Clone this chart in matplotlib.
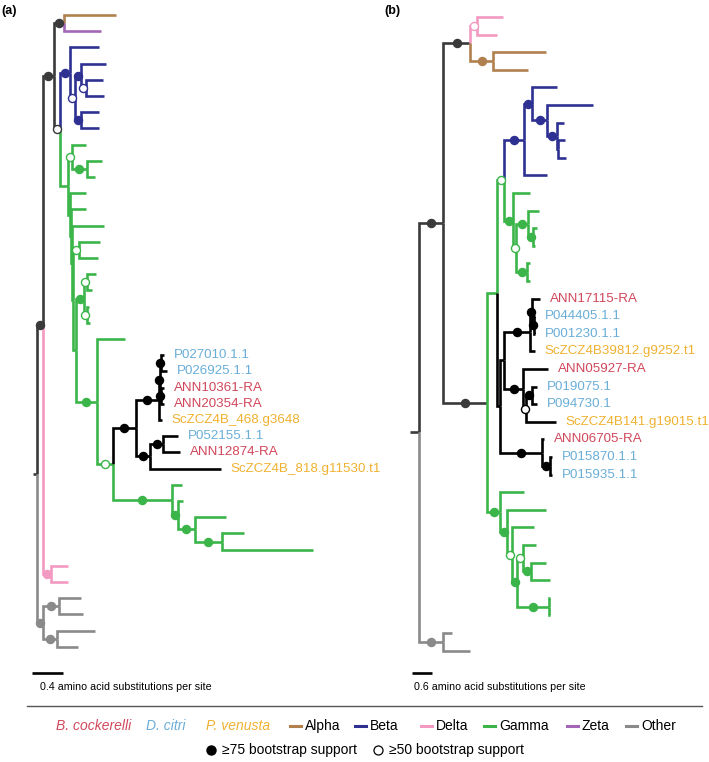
import matplotlib.pyplot as plt
from matplotlib.lines import Line2D

plt.rcParams['font.family'] = ['Liberation Sans', 'DejaVu Sans']

# trees in newick form, branch lengths in amino acid substitutions per site
# internal node label: <support>|<clade colour>, support H = >=75, L = >=50
tree_a = """
(
 (
  (
   (|a:0.671,|z:0.477)H:0.129,
   (
    (:0.374,((:0.323,(:0.219,:0.232)L:0.065)H:0.077,(:0.232,:0.232)H:0.077)L:0.065)H|b:0.129,
    (
     (:0.181,(:0.194,:0.103)H:0.194)L:0.052,
     (:0.206,
      (:0.194,
       (:0.413,
        ((:0.271,:0.245)L:0.077,
         (((:0.116,:0.065)L:0.039,(:0.026,:0.039)L:0.039)H:0.103,
          (:0.361,
           (
            (
             (((P027010.1.1:0.039,P026925.1.1:0.077)H:0.013,(ANN10361-RA:0.039,ANN20354-RA:0.039)H:0.013)H:0.013,
              ScZCZ4B_468.g3648:0.039)H:0.297,
             ((P052155.1.1:0.194,ANN12874-RA:0.219)H:0.168,ScZCZ4B_818.g11530.t1:0.916)H:0.181
            )H|x:0.297,
            (:0.129,(:0.065,(:0.400,(:0.284,:1.174)H:0.348)H:0.219)H:0.077)H:0.761
           )L:0.206
          )H:0.271
         ):0.039
        ):0.013
       ):0.013
      ):0.013
     ):0.026
    )|g:0.103
   )L:0.077
  )H:0.142,
  (:0.219,:0.219)H|d:0.103
 )H:0.077,
 ((:0.284,:0.310)H:0.206,(:0.490,:0.271)H:0.181)H|o:0.077
)|k:0.052
"""

tree_b = """
(
 (
  ((:0.78,:0.60)L|d:0.21,(:1.59,:1.05)H|a:0.69)H:0.81,
  (
   (
    (
     ((:0.75,(:1.38,(:0.21,(:0.21,:0.24):0.03)H:0.30)H:0.45)H:0.24,:0.69)H|b:0.60,
     (:0.51,((:0.33,(:0.12,:0.06)H:0.15)H:0.36,(:0.09,:0.09)H:0.33)L:0.09)H:0.27
    )L:0.21,
    (
     (
      ((ANN17115-RA:0.24,(P044405.1.1:0.03,P001230.1.1:0.03)H:0.06)H:0.06,ScZCZ4B39812.g9252.t1:0.15)H:0.78,
      (ANN05927-RA:0.75,((P019075.1:0.15,P094730.1:0.15)H:0.18,ScZCZ4B141.g19015.t1:0.90)L:0.09)H:0.57
     ):0.12,
     (ANN06705-RA:0.06,(P015870.1.1:0.06,P015935.1.1:0.06)H:0.24)H:1.26
    )|x:0.09
   )|g:0.30,
   (:0.72,(:1.17,(:0.66,((:0.39,(:0.45,:0.57)H:0.24)L:0.18,(:0.02,:0.02)H:0.96)H:0.15)L:0.15)H:0.21)H|g:0.39
  )H:1.32
 )H:0.72,
 (:0.27,:0.81)H|o:0.72
)|k:0.27
"""

clade_names = ['Alpha', 'Beta', 'Delta', 'Gamma', 'Zeta', 'Other']
clade_codes = ['a', 'b', 'd', 'g', 'z', 'o']
clade_colors = ['#b0814f', '#2e3192', '#f39ac2', '#3bb54a', '#a467b8', '#8a8a8a']
species_names = ['B. cockerelli', 'D. citri', 'P. venusta']
species_prefix = ['ANN', 'P0', 'ScZCZ4B']
species_colors = ['#d1475b', '#6aaed8', '#f0b130']
scale_a = 0.4
scale_b = 0.6

branch_color = dict(zip(clade_codes, clade_colors))
branch_color['k'] = '#3a3a3a'
branch_color['x'] = '#000000'


def parse(s):
    s = ''.join(s.split())
    pos = 0

    def node():
        nonlocal pos
        kids = []
        if s[pos] == '(':
            pos += 1
            kids.append(node())
            while s[pos] == ',':
                pos += 1
                kids.append(node())
            pos += 1
        start = pos
        while pos < len(s) and s[pos] not in ':,)':
            pos += 1
        label = s[start:pos]
        length = 0.0
        if pos < len(s) and s[pos] == ':':
            pos += 1
            start = pos
            while pos < len(s) and s[pos] not in ',)':
                pos += 1
            length = float(s[start:pos])
        return {'children': kids, 'label': label, 'length': length}

    return node()


def layout(node, x0, counter, color):
    parts = node['label'].split('|')
    node['name'] = parts[0]
    if len(parts) > 1 and parts[1]:
        color = parts[1]
    node['color'] = branch_color[color]
    node['x'] = x0 + node['length']
    if node['children']:
        for c in node['children']:
            layout(c, node['x'], counter, color)
        node['y'] = (node['children'][0]['y'] + node['children'][-1]['y']) / 2
    else:
        node['y'] = counter[0]
        counter[0] += 1


def draw(ax, node, parent=None):
    c = node['color']
    if parent is None:
        ax.plot([node['x'] - node['length'], node['x']], [node['y']] * 2,
                color=c, lw=1.9, solid_capstyle='butt')
    else:
        ax.plot([parent['x'], parent['x'], node['x']],
                [parent['y'], node['y'], node['y']],
                color=c, lw=1.9, solid_capstyle='butt', solid_joinstyle='miter')
    for ch in node['children']:
        draw(ax, ch, node)
    if node['children'] and parent is not None and node['name'] in ('H', 'L'):
        mx = (parent['x'] + node['x']) / 2
        face = c if node['name'] == 'H' else 'white'
        ax.plot(mx, node['y'], 'o', ms=5.8, mfc=face, mec=c, mew=1.0, zorder=5)
    if not node['children'] and node['name']:
        tc = 'black'
        for p, col in zip(species_prefix, species_colors):
            if node['name'].startswith(p):
                tc = col
        ax.annotate(node['name'], (node['x'], node['y']), xytext=(7, 0),
                    textcoords='offset points', va='center', ha='left',
                    fontsize=9.6, color=tc)


W, H = 709, 762
fig = plt.figure(figsize=(W / 100, H / 100), dpi=100)


def panel(tree, left_px, width_px, root_px, px_per_unit, tip0_px, tip_step,
          scale, bar_dx, text_dx, label, label_px):
    root = parse(tree)
    counter = [0]
    layout(root, -root['length'], counter, 'k')
    ax = fig.add_axes([left_px / W, 1 - 700 / H, width_px / W, 700 / H])
    x0 = (left_px - root_px) / px_per_unit
    ax.set_xlim(x0, x0 + width_px / px_per_unit)
    y0 = -tip0_px / tip_step
    ax.set_ylim(y0 + 700 / tip_step, y0)
    ax.axis('off')
    draw(ax, root)
    # scale bar below the tree
    sx = root['x'] + bar_dx / px_per_unit
    sy = (673 - tip0_px) / tip_step
    ax.plot([sx, sx + scale], [sy, sy], color='black', lw=1.9, solid_capstyle='butt')
    ax.text(sx + text_dx / px_per_unit, sy + 14 / tip_step,
            f'{scale} amino acid substitutions per site',
            fontsize=7.7, va='center', ha='left')
    fig.text(label_px / W, 1 - 11 / H, label, fontsize=9, fontweight='bold', va='center')
    return ax


panel(tree_a, 0, 360, 37, 31 / scale_a, 15, 16.2, scale_a, -5, 8, '(a)', 1)
panel(tree_b, 380, 329, 419, 20 / scale_b, 17, 17.6, scale_b, -7, 2, '(b)', 384)

# separator and legend
fig.add_artist(Line2D([27 / W, 702 / W], [1 - 706 / H] * 2, color='#555555', lw=1.0))
ly = 1 - 726 / H
for name, col, xp in zip(species_names, species_colors, [56, 146, 206]):
    fig.text(xp / W, ly, name, color=col, style='italic', fontsize=10, va='center')
for name, col, xp in zip(clade_names, clade_colors, [290, 355, 421, 484, 567, 626]):
    fig.add_artist(Line2D([xp / W, (xp + 11) / W], [ly, ly], color=col, lw=2.2))
    fig.text((xp + 15) / W, ly, name, fontsize=10, va='center')
ly2 = 1 - 750 / H
fig.add_artist(Line2D([211 / W], [ly2], marker='o', ms=6.5, color='black', ls=''))
fig.text(222 / W, ly2, '≥75 bootstrap support', fontsize=10, va='center')
fig.add_artist(Line2D([378 / W], [ly2], marker='o', ms=6.5, mfc='white', mec='black', mew=0.9, ls=''))
fig.text(389 / W, ly2, '≥50 bootstrap support', fontsize=10, va='center')

fig.savefig('out.png', dpi=100)
